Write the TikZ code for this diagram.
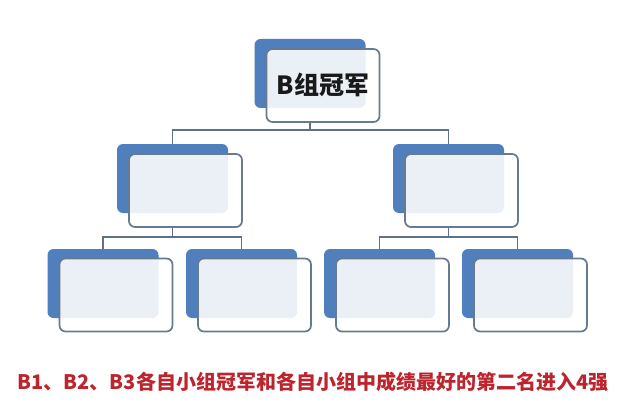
\documentclass[tikz,border=0pt]{standalone}
\usepackage{fontspec}
\newfontfamily\cjk{Noto Sans CJK SC}
\definecolor{boxblue}{HTML}{4F7FBD}
\definecolor{edgegray}{HTML}{687B8E}
\definecolor{linegray}{HTML}{5E7185}
\definecolor{capred}{HTML}{BC252D}
\tikzset{
  backbox/.style={rectangle, rounded corners=6pt, fill=boxblue, minimum width=111pt, minimum height=69pt, inner sep=0pt},
  frontbox/.style={rectangle, rounded corners=6pt, fill=white, fill opacity=0.89, text opacity=1, draw=edgegray, line width=1.7pt, minimum width=113pt, minimum height=73pt, inner sep=0pt},
  conn/.style={draw=linegray, line width=1.7pt},
}
\begin{document}
\begin{tikzpicture}[x=1pt,y=-1pt]
\useasboundingbox[fill=white] (0,0) rectangle (626,409);
% top
\node[backbox] (tB) at (310,73.5) {};
\node[frontbox] (tF) at (323,85.5) {};
\node[font=\cjk\bfseries\fontsize{25}{28}\selectfont, text=black!90] (tT) at (323,85) {B组冠军};
% middle
\node[backbox] (mlB) at (172.5,178.5) {};
\node[frontbox] (mlF) at (185.5,190.5) {};
\node[backbox] (mrB) at (448.5,178.5) {};
\node[frontbox] (mrF) at (461.5,190.5) {};
% bottom
\node[backbox] (b1B) at (103,283.5) {};
\node[frontbox] (b1F) at (116,295) {};
\node[backbox] (b2B) at (241.5,283.5) {};
\node[frontbox] (b2F) at (254.5,295) {};
\node[backbox] (b3B) at (379.5,283.5) {};
\node[frontbox] (b3F) at (392.5,295) {};
\node[backbox] (b4B) at (517.5,283.5) {};
\node[frontbox] (b4F) at (530.5,295) {};
% junctions
\coordinate (j1) at (310,130);
\coordinate (j2) at (172.5,237);
\coordinate (j3) at (448.5,237);
% connectors
\draw[conn] (tB |- tF.south) -- (j1);
\draw[conn] (mlB.north) |- (j1) -| (mrB.north);
\draw[conn] (mlB |- mlF.south) -- (j2);
\draw[conn] (b1B.north) |- (j2) -| (b2B.north);
\draw[conn] (mrB |- mrF.south) -- (j3);
\draw[conn] (b3B.north) |- (j3) -| (b4B.north);
% caption
\node[font=\cjk\bfseries\fontsize{20}{24}\selectfont, text=capred] (cap) at (313,382) {B1、B2、B3各自小组冠军和各自小组中成绩最好的第二名进入4强};
\end{tikzpicture}
\end{document}
